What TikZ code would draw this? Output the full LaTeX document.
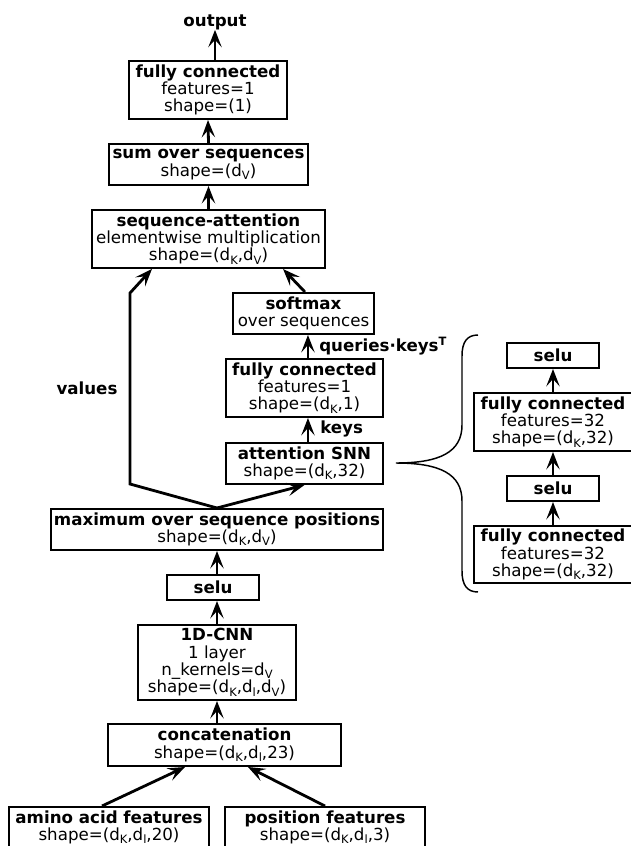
\documentclass[tikz,border=0pt]{standalone}
\usepackage{fontspec}
\setmainfont{DejaVu Sans}
\usetikzlibrary{arrows.meta,calc}
\newcommand{\dsb}[1]{d\raisebox{-2.4pt}{\fontsize{8.6}{8.6}\selectfont #1}}
\newcommand{\supT}{\raisebox{4.5pt}{\fontsize{8.6}{8.6}\selectfont\bfseries T}}
\begin{document}
\begin{tikzpicture}[x=0.75pt,y=-0.75pt,
  bx/.style={draw, line width=1.5pt, inner sep=0pt, align=center, font=\fontsize{12.5}{13}\selectfont},
  sz/.style 2 args={minimum width={#1*0.75pt}, minimum height={#2*0.75pt}},
  arr/.style={line width=2.1pt, -{Stealth[length=13pt,width=10pt,inset=5.5pt]}},
  lbl/.style={font=\fontsize{12.5}{13}\selectfont\bfseries, inner sep=0pt},
  brc/.style={line width=1.1pt}]
\useasboundingbox (0,0) rectangle (631,846);

% left column
\node[lbl] (output) at (215,22) {output};
\node[bx, sz={158}{58}] (fc1) at (208,90) {{\bfseries fully connected}\\features=1\\shape=(1)};
\node[bx, sz={199}{41}] (sum) at (208.5,164.5) {{\bfseries sum over sequences}\\shape=(\dsb{V})};
\node[bx, sz={233}{58}] (seqatt) at (208.5,239) {{\bfseries sequence-attention}\\elementwise multiplication\\shape=(\dsb{K},\dsb{V})};
\node[bx, sz={141}{41}] (softmax) at (303.5,313.5) {{\bfseries softmax}\\over sequences};
\node[bx, sz={157}{58}] (fckeys) at (304.5,388) {{\bfseries fully connected}\\features=1\\shape=(\dsb{K},1)};
\node[bx, sz={157}{41}] (attn) at (304.5,463.5) {{\bfseries attention SNN}\\shape=(\dsb{K},32)};
\node[bx, sz={332}{41}] (max) at (217,529.5) {{\bfseries maximum over sequence positions}\\shape=(\dsb{K},\dsb{V})};
\node[bx, sz={92}{25}] (selu) at (213,587.5) {{\bfseries selu}};
\node[bx, sz={158}{75}] (cnn) at (217,662.5) {{\bfseries 1D-CNN}\\1 layer\\n\_kernels=\dsb{V}\\shape=(\dsb{K},\dsb{l},\dsb{V})};
\node[bx, sz={233}{42}] (concat) at (224.5,745) {{\bfseries concatenation}\\shape=(\dsb{K},\dsb{l},23)};
\node[bx, sz={200}{41}] (amino) at (109,827.5) {{\bfseries amino acid features}\\shape=(\dsb{K},\dsb{l},20)};
\node[bx, sz={200}{41}] (pos) at (325,827.5) {{\bfseries position features}\\shape=(\dsb{K},\dsb{l},3)};

% right column
\node[bx, sz={92}{25}] (rselu1) at (553,355.5) {{\bfseries selu}};
\node[bx, sz={158}{58}] (rfc1) at (553,422) {{\bfseries fully connected}\\features=32\\shape=(\dsb{K},32)};
\node[bx, sz={92}{25}] (rselu2) at (553,488.5) {{\bfseries selu}};
\node[bx, sz={158}{57}] (rfc2) at (553,554.5) {{\bfseries fully connected}\\features=32\\shape=(\dsb{K},32)};

% labels
\node[lbl] (values) at (87,388) {values};
\node[lbl, anchor=west] (keys) at (320,429) {keys};
\node[lbl, anchor=west] (qk) at (319,346) {queries·keys\supT};

% connectors
\draw[arr] (fc1.north -| output.south) -- (output.south);
\draw[arr] (sum.north) -- (fc1.south);
\draw[arr] (seqatt.north) -- (sum.south);
\draw[arr] ([xshift=1.1pt]softmax.north) -- ([xshift=55.9pt]seqatt.south);
\draw[arr] (max.north) -- (130,484) -- (130,293) -- ([xshift=-42.4pt]seqatt.south);
\draw[arr] (max.north) -- (attn.south);
\draw[arr] ([xshift=2.6pt]attn.north) -- ([xshift=2.6pt]fckeys.south);
\draw[arr] ([xshift=2.6pt]fckeys.north) -- ([xshift=2.6pt]fckeys.north |- softmax.south);
\draw[arr] (selu.north -| max.south) -- (max.south);
\draw[arr] (cnn.north) -- (cnn.north |- selu.south);
\draw[arr] (concat.north -| cnn.south) -- (cnn.south);
\draw[arr] ([xshift=-5.25pt]amino.north) -- ([xshift=-29.6pt]concat.south);
\draw[arr] (pos.north) -- ([xshift=17.6pt]concat.south);
\draw[arr] (rfc2.north) -- (rselu2.south);
\draw[arr] (rselu2.north) -- (rfc1.south);
\draw[arr] (rfc1.north) -- (rselu1.south);

% brace
\coordinate (btip) at (396,463);
\draw[brc] (478,335) .. controls (467,335) and (462,342) .. (462,356) -- (462,425)
  .. controls (462,452) and (440,463) .. (btip)
  .. controls (440,463) and (462,474) .. (462,501) -- (462,571)
  .. controls (462,585) and (467,592) .. (478,592);
\end{tikzpicture}
\end{document}
